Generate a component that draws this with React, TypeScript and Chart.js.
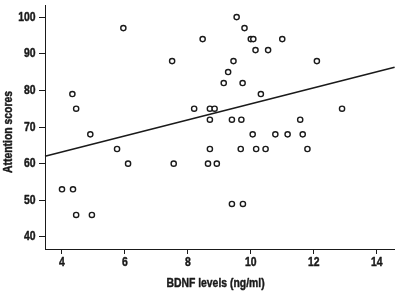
import React, { useEffect, useRef } from "react";
import { Chart, registerables } from "chart.js";

Chart.register(...registerables);

// BDNF levels (ng/ml) for each participant
const bdnfLevels = [
  4.0, 4.35, 4.45, 4.95, 4.33, 4.45, 4.9, 5.75, 5.95, 6.1,
  7.5, 7.55, 8.2, 8.47, 8.7, 8.85, 8.7, 8.7, 8.64, 8.92,
  9.14, 9.28, 9.4, 9.4, 9.45, 9.55, 9.7, 9.68, 9.74, 9.75,
  9.8, 10.0, 10.08, 10.06, 10.15, 10.17, 10.32, 10.47, 10.55, 10.78,
  11.0, 11.17, 11.57, 11.65, 11.8, 12.1, 12.9,
];
// Attention scores for each participant
const attentionScores = [
  53, 53, 46, 46, 79, 75, 68, 64, 97, 60,
  88, 60, 75, 94, 75, 75, 72, 64, 60, 60,
  82, 85, 72, 49, 88, 100, 72, 64, 82, 49,
  97, 94, 94, 68, 91, 64, 79, 64, 91, 68,
  94, 68, 72, 68, 64, 88, 75,
];
// Fitted regression line endpoints
const fitX = [3.46, 14.57];
const fitY = [62.0, 86.3];

const xTickValues = [4, 6, 8, 10, 12, 14];
const yTickValues = [40, 50, 60, 70, 80, 90, 100];
const xTitle = "BDNF levels (ng/ml)";
const yTitle = "Attention scores";

const FONT = "'Liberation Sans Narrow', 'Arial Narrow', 'Liberation Sans', Arial, sans-serif";
const INK = "#1a1a1a";
const NARROW = 0.8;

function drawNarrow(
  ctx: CanvasRenderingContext2D,
  text: string,
  cx: number,
  cy: number,
  align: CanvasTextAlign,
  rotate = 0
) {
  ctx.save();
  ctx.translate(cx, cy);
  if (rotate) ctx.rotate(rotate);
  ctx.scale(NARROW, 1);
  ctx.textAlign = align;
  ctx.textBaseline = "middle";
  ctx.fillText(text, 0, 0);
  ctx.strokeText(text, 0, 0);
  ctx.restore();
}

// Draws tick labels and axis titles in a condensed bold face
const condensedLabels = {
  id: "condensedLabels",
  afterDraw(chart: any) {
    const ctx: CanvasRenderingContext2D = chart.ctx;
    const xs = chart.scales.x;
    const ys = chart.scales.y;
    const area = chart.chartArea;
    ctx.save();
    ctx.fillStyle = INK;
    ctx.strokeStyle = INK;
    ctx.lineWidth = 0.45;
    ctx.lineJoin = "round";
    ctx.font = `bold 13px ${FONT}`;
    for (const v of xTickValues) {
      drawNarrow(ctx, String(v), xs.getPixelForValue(v), area.bottom + 13.5, "center");
    }
    for (const v of yTickValues) {
      drawNarrow(ctx, String(v), area.left - 9.5, ys.getPixelForValue(v), "right");
    }
    drawNarrow(ctx, xTitle, 215.5, 283, "center");
    drawNarrow(ctx, yTitle, 8, 132, "center", -Math.PI / 2);
    ctx.restore();
  },
};

export default function App() {
  const canvasRef = useRef<HTMLCanvasElement | null>(null);

  useEffect(() => {
    document.body.style.margin = "0";
    const canvas = canvasRef.current;
    if (!canvas) return;

    const points = bdnfLevels.map((x, i) => ({ x, y: attentionScores[i] }));
    const fitLine = fitX.map((x, i) => ({ x, y: fitY[i] }));

    const chart = new Chart(canvas, {
      type: "scatter",
      data: {
        datasets: [
          {
            type: "line",
            data: fitLine,
            borderColor: INK,
            borderWidth: 1.6,
            pointRadius: 0,
            fill: false,
            clip: false,
          } as any,
          {
            type: "scatter",
            data: points,
            pointStyle: "circle",
            pointRadius: 2.6,
            pointBorderWidth: 1.4,
            borderColor: INK,
            backgroundColor: "#ffffff",
            clip: false,
          } as any,
        ],
      },
      options: {
        animation: false,
        responsive: false,
        events: [],
        layout: { padding: { top: 2, right: 1, left: 0, bottom: 0 } },
        plugins: {
          legend: { display: false },
          tooltip: { enabled: false },
        },
        scales: {
          x: {
            type: "linear",
            min: 3.46,
            max: 14.57,
            afterBuildTicks: (scale: any) => {
              scale.ticks = xTickValues.map((v) => ({ value: v }));
            },
            afterFit: (scale: any) => {
              scale.height = 42;
            },
            grid: {
              drawOnChartArea: false,
              drawTicks: true,
              tickLength: 5,
              color: INK,
              lineWidth: 1,
            },
            border: { display: true, color: INK, width: 1 },
            ticks: { display: false },
            title: { display: false, text: xTitle },
          },
          y: {
            type: "linear",
            min: 36.7,
            max: 103.2,
            afterBuildTicks: (scale: any) => {
              scale.ticks = yTickValues.map((v) => ({ value: v }));
            },
            afterFit: (scale: any) => {
              scale.width = 45;
            },
            grid: {
              drawOnChartArea: false,
              drawTicks: true,
              tickLength: 6,
              color: INK,
              lineWidth: 1,
            },
            border: { display: true, color: INK, width: 1 },
            ticks: { display: false },
            title: { display: false, text: yTitle },
          },
        },
      } as any,
      plugins: [condensedLabels],
    });

    return () => chart.destroy();
  }, []);

  return (
    <div style={{ width: 400, height: 291, background: "#ffffff" }}>
      <canvas ref={canvasRef} width={400} height={291} />
    </div>
  );
}
